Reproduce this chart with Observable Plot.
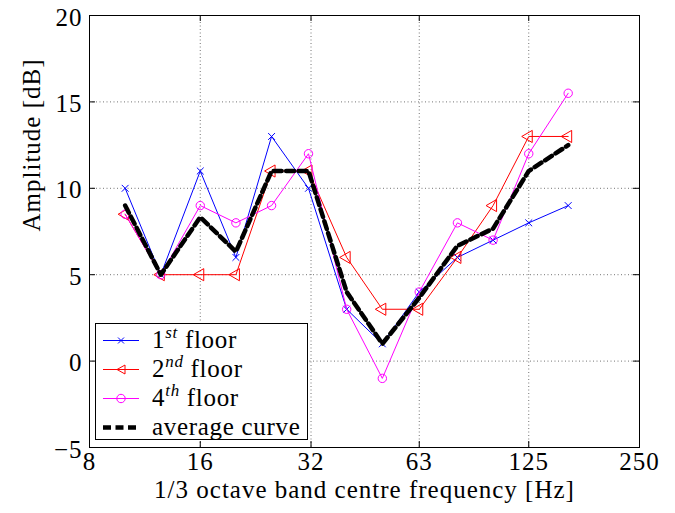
<!DOCTYPE html>
<html><head><meta charset="utf-8">
<script src="https://cdn.jsdelivr.net/npm/d3@7"></script>
<script src="https://cdn.jsdelivr.net/npm/@observablehq/plot@0.6"></script>
<style>
body{margin:0;background:#fff;}
#wrap{position:relative;width:675px;height:513px;font-family:"Liberation Serif";}
#wrap svg, #wrap svg text, #wrap svg g {font-family:"Liberation Serif" !important;}
</style></head>
<body><div id="wrap"></div>
<script>
const freq = [10, 12.5, 16, 20, 25, 31.5, 40, 50, 63, 80, 100, 125, 160];
const floor1 = [10, 5, 11, 6, 13, 10, 3, 1, 4, 6, 7, 8, 9];
const floor2 = [8.5, 5, 5, 5, 11, 11, 6, 3, 3, 6, 9, 13, 13];
const floor4 = [8.5, 5, 9, 8, 9, 12, 3, -1, 4, 8, 7, 12, 15.5];
const average = [9, 5, 8.33, 6.33, 11, 11, 4, 1, 3.67, 6.67, 7.67, 11, 12.5];
const xTicks = [8, 16, 32, 63, 125, 250];
const yTicks = [-5, 0, 5, 10, 15, 20];
const xLabel = "1/3 octave band centre frequency [Hz]";
const yLabel = "Amplitude [dB]";
const seriesNames = [["1", "st", " floor"], ["2", "nd", " floor"], ["4", "th", " floor"], ["average curve", "", ""]];

const rows = arr => freq.map((f, i) => ({f, v: arr[i]}));
const r1 = rows(floor1), r2 = rows(floor2), r4 = rows(floor4), ra = rows(average);
const fmt = d => d < 0 ? "\u2212" + Math.abs(d) : String(d);
const FONT = '"Liberation Serif"';
const FS = 25;
const plotH = 513 - 15 - 66, plotW = 675 - 89 - 36, TK = 6;

const chart = Plot.plot({
  width: 675, height: 513,
  marginLeft: 89, marginRight: 36, marginTop: 15, marginBottom: 66,
  style: {fontFamily: FONT, fontSize: FS + "px", background: "#fff", color: "#000", letterSpacing: "1px"},
  x: {type: "log", domain: [8, 250], axis: null},
  y: {domain: [-5, 20], axis: null},
  marks: [
    Plot.gridX(xTicks, {stroke: "#000", strokeOpacity: 0.55, strokeDasharray: "1,2.5"}),
    Plot.gridY(yTicks, {stroke: "#000", strokeOpacity: 0.55, strokeDasharray: "1,2.5"}),
    Plot.tickX(xTicks, {x: d => d, stroke: "#000", insetTop: plotH - TK}),
    Plot.tickX(xTicks, {x: d => d, stroke: "#000", insetBottom: plotH - TK}),
    Plot.tickY(yTicks, {y: d => d, stroke: "#000", insetRight: plotW - TK}),
    Plot.tickY(yTicks, {y: d => d, stroke: "#000", insetLeft: plotW - TK}),
    Plot.text(xTicks, {x: d => d, text: fmt, frameAnchor: "bottom", lineAnchor: "top", dy: 5, fontSize: FS}),
    Plot.text(yTicks, {y: d => d, text: fmt, frameAnchor: "left", textAnchor: "end", dx: -7, dy: 2, fontSize: FS}),
    Plot.frame({stroke: "#000"}),
    Plot.line(r1, {x: "f", y: "v", stroke: "#0000ff", strokeWidth: 1}),
    Plot.dot(r1, {x: "f", y: "v", stroke: "#0000ff", symbol: "times", r: 3.2, strokeWidth: 1}),
    Plot.line(r2, {x: "f", y: "v", stroke: "#ff0000", strokeWidth: 1}),
    Plot.dot(r2, {x: "f", y: "v", stroke: "#ff0000", fill: "none", symbol: "triangle", rotate: -90, r: 4.5, strokeWidth: 1}),
    Plot.line(r4, {x: "f", y: "v", stroke: "#ff00ff", strokeWidth: 1}),
    Plot.dot(r4, {x: "f", y: "v", stroke: "#ff00ff", fill: "none", symbol: "circle", r: 4.2, strokeWidth: 1}),
    Plot.line(ra, {x: "f", y: "v", stroke: "#000", strokeWidth: 4.5, strokeDasharray: "8,4.5"}),
    Plot.text([xLabel], {text: d => d, frameAnchor: "bottom", dy: 50, fontSize: FS}),
    Plot.text([yLabel], {text: d => d, frameAnchor: "left", rotate: -90, dx: -58, fontSize: FS})
  ]
});
const wrap = document.getElementById("wrap");
wrap.appendChild(chart);

// legend
const colors = ["#0000ff", "#ff0000", "#ff00ff", "#000"];
const lg = d3.create("svg").attr("width", 216).attr("height", 120)
  .style("position", "absolute").style("left", "94px").style("top", "322px")
  .style("letter-spacing", "0.7px");
lg.append("rect").attr("x", 1.5).attr("y", 1.5).attr("width", 212).attr("height", 116)
  .attr("fill", "#fff").attr("stroke", "#000").attr("stroke-width", 1);
seriesNames.forEach((nm, i) => {
  const ly = 18.5 + 29 * i, c = colors[i];
  if (i < 3) {
    lg.append("line").attr("x1", 9).attr("x2", 45).attr("y1", ly).attr("y2", ly).attr("stroke", c);
  } else {
    lg.append("line").attr("x1", 9).attr("x2", 45).attr("y1", ly).attr("y2", ly).attr("stroke", c)
      .attr("stroke-width", 4.5).attr("stroke-dasharray", "8,4.5");
  }
  if (i === 0) lg.append("path").attr("d", `M24,${ly-3} L30,${ly+3} M30,${ly-3} L24,${ly+3}`).attr("stroke", c);
  if (i === 1) lg.append("path").attr("d", `M23,${ly} L31,${ly-4.5} L31,${ly+4.5} Z`).attr("fill", "none").attr("stroke", c);
  if (i === 2) lg.append("circle").attr("cx", 27).attr("cy", ly).attr("r", 4.2).attr("fill", "none").attr("stroke", c);
  const t = lg.append("text").attr("x", 58).attr("y", ly + 7).attr("font-size", FS);
  t.append("tspan").text(nm[0]);
  if (nm[1]) {
    t.append("tspan").attr("font-size", 17).attr("font-style", "italic").attr("dy", -10).text(nm[1]);
    t.append("tspan").attr("dy", 10).text(nm[2]);
  }
});
wrap.appendChild(lg.node());
</script>
</body></html>
